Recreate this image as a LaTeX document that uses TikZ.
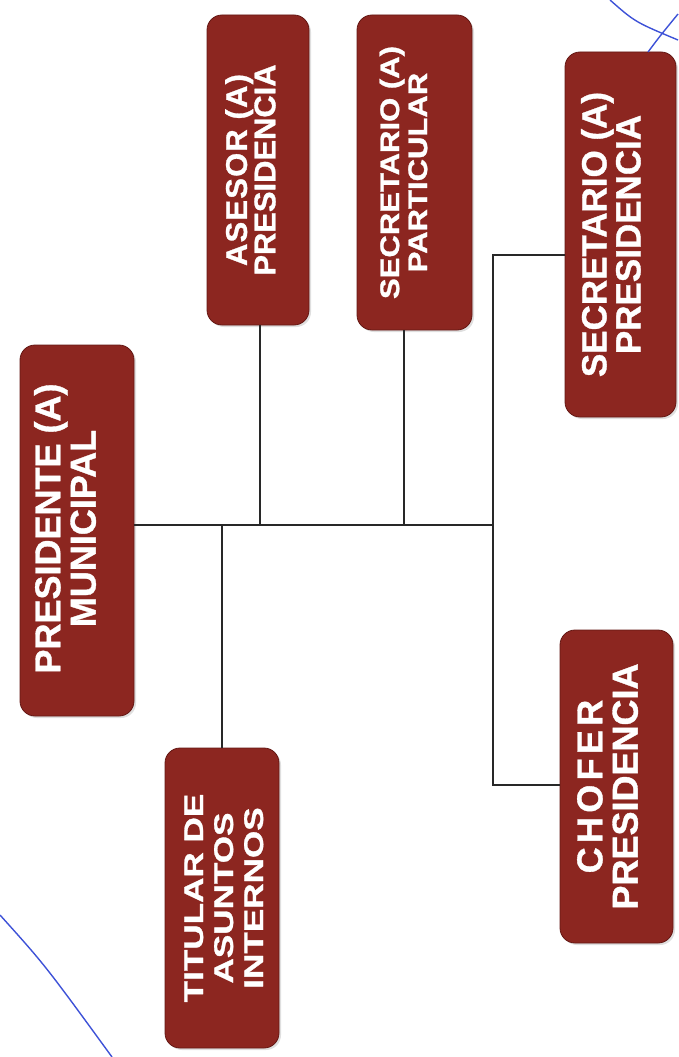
\documentclass[tikz,border=0pt]{standalone}
\usepackage{fontspec}
\setmainfont{Liberation Sans}[BoldFeatures={FakeBold=1}]
\usetikzlibrary{shadows,calc}
\definecolor{boxred}{RGB}{140,38,32}
\definecolor{boxedge}{RGB}{100,24,20}
\definecolor{pen}{RGB}{62,82,215}
\definecolor{wire}{RGB}{40,40,40}
\newcommand{\vtext}[4]{\rotatebox{90}{\scalebox{#3}[1]{\fontsize{#1}{#2}\selectfont\bfseries\begin{tabular}{@{}c@{}}#4\end{tabular}}}}
\newcommand{\spaced}[2]{{\addfontfeature{LetterSpace=#1}#2}}
\tikzset{
  orgbox/.style={draw=boxedge, line width=0.8pt, fill=boxred, rounded corners=15pt,
    inner sep=0pt, drop shadow={shadow xshift=2pt, shadow yshift=-2pt, opacity=0.25}},
  boxlabel/.style={text=white, inner sep=0pt},
  wireline/.style={draw=wire, line width=1.5pt},
  penline/.style={draw=pen, line width=1.4pt}
}
\begin{document}
\begin{tikzpicture}[x=1pt,y=-1pt]
\useasboundingbox (0,0) rectangle (678,1057);
\node[orgbox, minimum width=114pt, minimum height=371pt] (pres) at (77,530.5) {};
\node[orgbox, minimum width=102pt, minimum height=310pt] (ases) at (258,170) {};
\node[orgbox, minimum width=115pt, minimum height=315pt] (spart) at (414.5,172.5) {};
\node[orgbox, minimum width=111pt, minimum height=365pt] (spres) at (620.5,234.5) {};
\node[orgbox, minimum width=113pt, minimum height=313pt] (chof) at (616.5,786.5) {};
\node[orgbox, minimum width=114pt, minimum height=300pt] (titu) at (222,898) {};
% labels
\node[boxlabel] (presT) at ($(pres.center)+(-7,-2)$)
  {\vtext{36pt}{34pt}{1.0}{PRESIDENTE (A)\\MUNICIPAL}};
\node[boxlabel] (asesT) at ($(ases.center)+(-4,0)$)
  {\vtext{30pt}{25pt}{1.03}{\spaced{4}{ASESOR (A)}\\PRESIDENCIA}};
\node[boxlabel] (spartT) at ($(spart.center)+(-7,0)$)
  {\vtext{27pt}{28pt}{1.15}{SECRETARIO (A)\\PARTICULAR}};
\node[boxlabel] (spresT) at ($(spres.center)+(-5,0)$)
  {\vtext{35pt}{32pt}{1.0}{SECRETARIO (A)\\PRESIDENCIA}};
\node[boxlabel] (chofT) at ($(chof.center)+(-4,0)$)
  {\vtext{36pt}{34pt}{1.0}{\spaced{12}{CHOFER}\\PRESIDENCIA}};
\node[boxlabel] (tituT) at ($(titu.center)+(5,0)$)
  {\vtext{27pt}{30pt}{1.3}{TITULAR DE\\ASUNTOS\\INTERNOS}};
% junctions
\coordinate (bus) at (493,525);
\coordinate (ja) at (260,525);
\coordinate (jp) at (404,525);
\coordinate (jt) at (222,525);
\coordinate (t1) at (493,255);
\coordinate (t2) at (493,785);
\draw[wireline] (bus -| pres.east) -- (bus);
\draw[wireline] (ja) -- (ja |- ases.south);
\draw[wireline] (jp) -- (jp |- spart.south);
\draw[wireline] (jt) -- (titu.north);
\draw[wireline] (t1 -| spres.west) -- (t1) -- (t2) -- (t2 -| chof.west);
% pen marks
\draw[penline] (0,915) .. controls (45,965) .. (112,1057);
\draw[penline] (610,0) .. controls (635,22) .. (678,40);
\draw[penline] (648,52) .. controls (660,36) .. (678,14);
\end{tikzpicture}
\end{document}
